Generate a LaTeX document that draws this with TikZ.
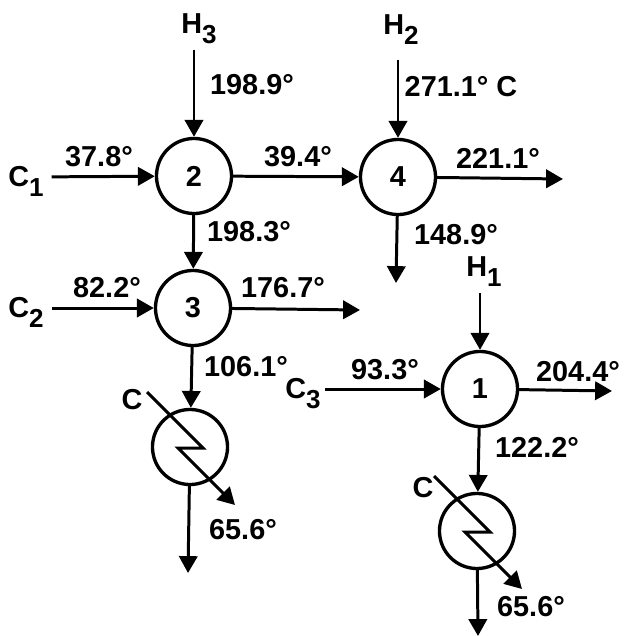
\documentclass[tikz,border=0pt]{standalone}
\usepackage{fontspec}
\setmainfont{Liberation Sans}
\usetikzlibrary{arrows.meta}
\newcommand{\strm}[2]{#1\smash{\raisebox{-2.6pt}{\fontsize{7.4}{9}\selectfont #2}}}
\begin{document}
\begin{tikzpicture}[x=0.01cm,y=-0.01cm, every node/.style={font=\bfseries\fontsize{8.2}{10}\selectfont,inner sep=1pt}]
  \tikzstyle{c}=[draw,circle,minimum size=0.75cm,line width=0.95pt,inner sep=0pt]
  \tikzstyle{f}=[-{Triangle[length=4.8pt,width=5.2pt]},line width=0.85pt]
  \useasboundingbox (0,0) rectangle (628,636);
  % exchangers and coolers
  \node[c] (n2) at (194,176) {2};
  \node[c] (n3) at (193,308) {3};
  \node[c] (n4) at (398,177) {4};
  \node[c] (n1) at (480,389) {1};
  \node[c] (k1) at (190,447) {};
  \node[c] (k2) at (477,531) {};
  % stream names
  \node[outer ysep=3.5pt] (h3) at (199,24) {\strm{H}{3}};
  \node[outer ysep=6pt] (h2) at (401,25) {\strm{H}{2}};
  \node[outer ysep=3.5pt] (h1) at (484,267) {\strm{H}{1}};
  \node[outer xsep=1.3pt] (c1) at (26,177) {\strm{C}{1}};
  \node[outer xsep=1.3pt] (c2) at (26,308) {\strm{C}{2}};
  \node (c3) at (303,389) {\strm{C}{3}};
  \node (w1) at (132,400) {C};
  \node (w2) at (423,488) {C};
  % free ends
  \coordinate (e1) at (563,179);
  \coordinate (e2) at (396,283);
  \coordinate (e3) at (360,310);
  \coordinate (e4) at (188,573);
  \coordinate (e5) at (612,391);
  \coordinate (e6) at (478,636);
  % streams
  \draw[f] (n2 |- h3.south) -- (n2);
  \draw[f] (n4 |- h2.south) -- (n4);
  \draw[f] (n1 |- h1.south) -- (n1);
  \draw[f] (c1) -- (n2);
  \draw[f] (c2) -- (n3);
  \draw[f] (c3) -- (n1);
  \draw[f] (n2) -- (n4);
  \draw[f] (n2) -- (n3);
  \draw[f] (n3) -- (k1);
  \draw[f] (n1) -- (k2);
  \draw[f] (n4) -- (e1);
  \draw[f] (n4) -- (e2);
  \draw[f] (n3) -- (e3);
  \draw[f] (k1) -- (e4);
  \draw[f] (n1) -- (e5);
  \draw[f] (k2) -- (e6);
  % cooling water zigzags
  \draw[f] ([shift={(-43,-55)}]k1.center) -- ++(56,56) -- ++(-25,0) -- ++(57,57);
  \draw[f] ([shift={(-43,-55)}]k2.center) -- ++(56,56) -- ++(-25,0) -- ++(57,57);
  % temperatures
  \node at (252,85) {198.9°};
  \node at (99,157) {37.8°};
  \node at (298,157) {39.4°};
  \node at (249,232) {198.3°};
  \node at (107,288) {82.2°};
  \node at (283,288) {176.7°};
  \node at (246,367) {106.1°};
  \node at (243,530) {65.6°};
  \node at (461,87) {271.1° C};
  \node at (498,158) {221.1°};
  \node at (456,235) {148.9°};
  \node at (385,370) {93.3°};
  \node at (578,372) {204.4°};
  \node at (537,447) {122.2°};
  \node at (531,607) {65.6°};
\end{tikzpicture}
\end{document}
